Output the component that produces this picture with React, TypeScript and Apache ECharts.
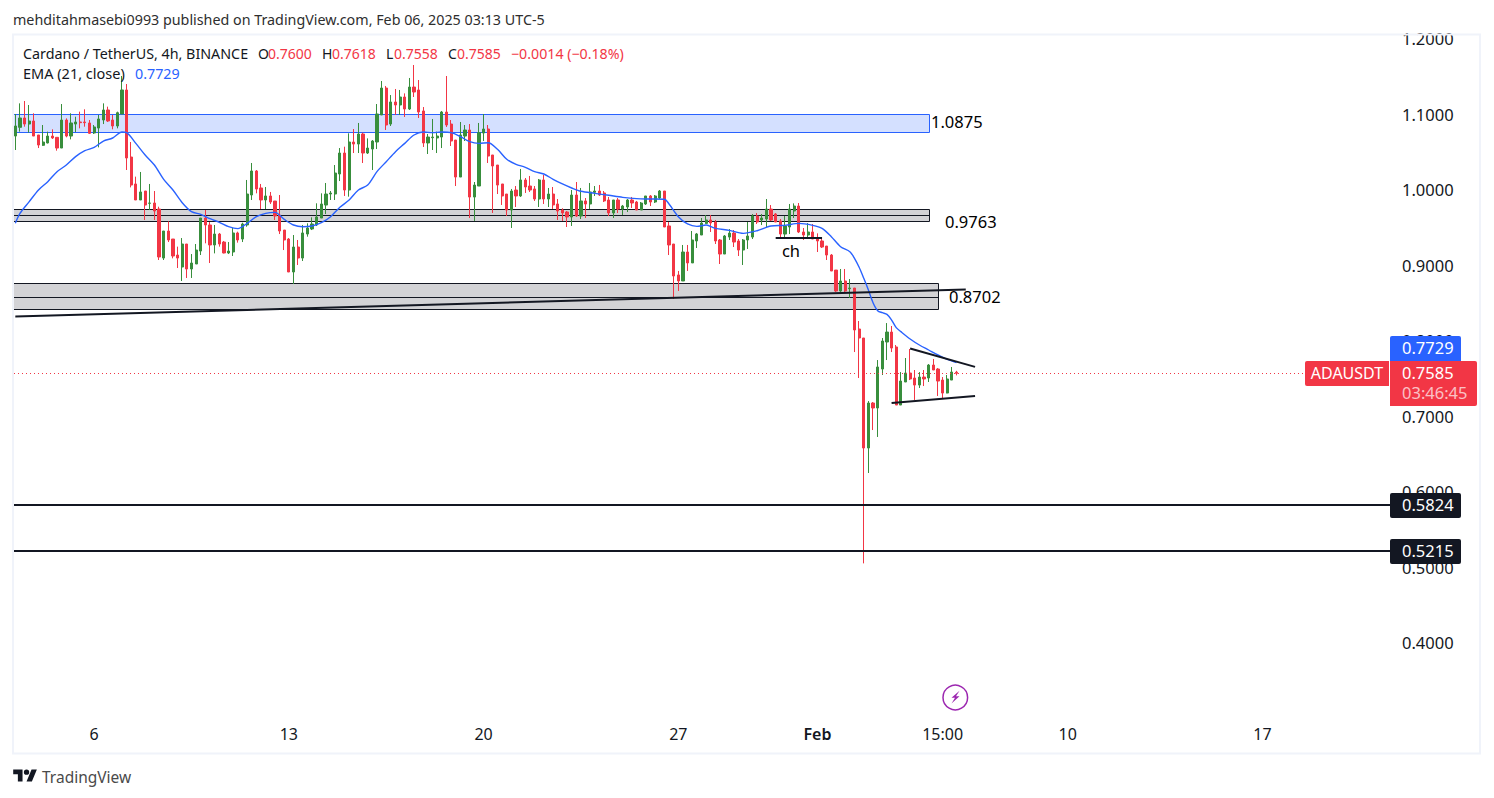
import React, { useEffect, useRef } from "react";
import * as echarts from "echarts";

const opens = [
1.0728,1.0843,1.0967,1.0887,1.0927,1.0742,1.0605,1.0636,1.0728,1.0711,
1.0569,1.0940,1.0728,1.0887,1.0914,1.0914,1.0901,1.0768,1.0834,1.0940,
1.1073,1.0940,1.0861,1.1020,1.1338,1.0450,1.0093,.9881,1.0000,.9837,
.9841,.9761,.9112,.9470,.9364,.9152,.8993,.9298,.8967,.9033,
.9205,.9642,.9550,.9285,.9430,.9324,.9179,.9192,.9444,.9364,
.9550,.9947,1.0265,1.0040,.9881,.9934,.9867,.9682,.9483,.9364,
.8927,.9258,.9112,.9430,.9497,.9550,.9642,.9814,.9960,.9960,
1.0225,1.0503,1.0013,1.0649,1.0622,1.0755,1.0503,1.0556,1.0649,1.1007,
1.1364,1.0887,1.1179,1.1139,1.1245,1.1086,1.1377,1.1338,1.1060,1.0636,
1.0706,1.0702,1.0715,1.1046,1.0887,1.0675,1.0185,1.0728,1.0808,.9920,
1.0066,1.0768,1.0821,1.0477,1.0344,1.0093,.9960,.9748,1.0013,.9934,
1.0146,1.0066,1.0027,.9894,1.0146,.9894,.9960,.9828,.9748,.9722,
.9656,.9947,.9669,.9868,.9828,.9982,1.0000,.9974,.9881,.9709,
.9881,.9762,.9788,.9881,.9854,.9748,.9828,.9934,.9854,.9907,
1.0000,.9537,.9298,.8888,.8808,.9192,.9047,.9338,.9417,.9571,
.9616,.9589,.9351,.9165,.9390,.9443,.9338,.9218,.9351,.9390,
.9669,.9616,.9629,.9761,.9695,.9602,.9430,.9523,.9735,.9801,
.9457,.9417,.9457,.9377,.9338,.9271,.9152,.8953,.8675,.8808,
.8706,.8715,.8172,.8053,.6596,.7192,.7126,.7642,.8000,.8132,
.7934,.7165,.7470,.7589,.7523,.7430,.7536,.7523,.7695,.7642,
.7496,.7324,.7496,.7600];

const closes = [
1.0861,1.0967,1.0887,1.0927,1.0728,1.0609,1.0649,1.0728,1.0702,1.0569,
1.0940,1.0728,1.0901,1.0914,1.0905,1.0905,1.0764,1.0848,1.0954,1.1073,
1.0927,1.0861,1.1037,1.1338,1.0437,1.0079,.9881,.9987,.9814,.9841,
.9735,.9126,.9470,.9351,.9139,.9112,.9298,.8967,.9046,.9218,
.9642,.9550,.9285,.9430,.9298,.9179,.9205,.9444,.9351,.9563,
.9960,1.0265,1.0026,.9881,.9934,.9854,.9669,.9470,.9351,.8927,
.9258,.9112,.9444,.9510,.9563,.9656,.9828,.9960,.9973,1.0238,
1.0503,1.0013,1.0649,1.0622,1.0755,1.0503,1.0569,1.0662,1.1020,1.1364,
1.0874,1.1179,1.1139,1.1245,1.1086,1.1377,1.1311,1.1046,1.0636,1.0715,
1.0715,1.0728,1.1046,1.0874,1.0662,1.0185,1.0742,1.0808,.9920,1.0079,
1.0773,1.0821,1.0463,1.0331,1.0079,.9934,.9748,1.0000,.9934,1.0146,
1.0053,1.0013,.9894,1.0146,.9894,.9960,.9815,.9735,.9709,.9656,
.9947,.9669,.9868,.9828,.9987,1.0000,.9947,.9868,.9709,.9881,
.9762,.9801,.9881,.9841,.9748,.9841,.9934,.9854,.9934,1.0000,
.9523,.9285,.8874,.8808,.9192,.9047,.9351,.9431,.9576,.9616,
.9576,.9338,.9165,.9404,.9443,.9324,.9218,.9351,.9404,.9669,
.9589,.9642,.9761,.9616,.9589,.9430,.9536,.9761,.9801,.9457,
.9417,.9457,.9364,.9338,.9258,.9152,.8940,.8675,.8808,.8675,
.8715,.8159,.8053,.6596,.7192,.7126,.7669,.8013,.8132,.7920,
.7165,.7483,.7589,.7510,.7430,.7536,.7510,.7695,.7629,.7483,
.7324,.7510,.7602,.7585];

const lows = [
1.0543,1.0786,1.0852,1.0773,1.0728,1.0569,1.0596,1.0631,1.0689,1.0534,
1.0569,1.0711,1.0684,1.0781,1.0830,1.0852,1.0755,1.0755,1.0578,1.0887,
1.0914,1.0817,1.0830,1.1020,1.0278,1.0048,.9881,.9881,.9616,.9748,
.9616,.9086,.9086,.9324,.9108,.8980,.8808,.8848,.8848,.9033,
.9152,.9307,.9046,.9174,.9263,.9174,.9165,.9139,.9316,.9324,
.9527,.9881,.9969,.9761,.9761,.9828,.9616,.9430,.9218,.8927,
.8768,.9020,.9073,.9395,.9483,.9536,.9642,.9695,.9881,.9881,
1.0132,.9934,.9925,1.0503,1.0503,1.0371,1.0490,1.0278,1.0556,1.1007,
1.0808,1.0861,1.1007,1.1007,1.0980,1.1073,1.1245,1.0967,1.0583,1.0490,
1.0543,1.0503,1.0569,1.0848,1.0596,1.0066,1.0185,1.0662,.9642,.9603,
1.0066,1.0662,1.0371,.9709,.9960,.9815,.9669,.9510,.9788,.9921,
.9974,.9987,.9868,.9788,.9828,.9788,.9762,.9616,.9603,.9523,
.9537,.9656,.9629,.9643,.9762,.9934,.9934,.9854,.9669,.9643,
.9709,.9682,.9722,.9775,.9748,.9748,.9815,.9801,.9841,.9894,
.9523,.9152,.8570,.8676,.8808,.8941,.9047,.9245,.9417,.9563,
.9457,.9298,.9033,.9165,.9351,.9258,.9139,.9020,.9232,.9364,
.9563,.9549,.9523,.9602,.9589,.9377,.9364,.9430,.9642,.9443,
.9351,.9390,.9364,.9192,.9245,.9086,.8940,.8662,.8662,.8649,
.8583,.7867,.7523,.5068,.6265,.6834,.6742,.7563,.7761,.7867,
.7165,.7165,.7470,.7496,.7232,.7391,.7417,.7470,.7629,.7285,
.7258,.7320,.7496,.7558];

const highs = [
1.1020,1.1161,1.1192,1.1139,1.1029,1.0742,1.0874,1.0786,1.0817,1.0711,
1.1152,1.0962,1.1029,1.0984,1.1051,1.1082,1.0940,1.0874,1.1007,1.1161,
1.1117,1.1007,1.1051,1.1523,1.1417,1.0649,1.0190,1.0252,1.0000,1.0093,
1.0000,.9792,.9470,.9598,.9364,.9263,.9377,.9298,.9165,.9298,
.9642,.9748,.9589,.9550,.9444,.9338,.9324,.9510,.9461,.9580,
1.0146,1.0371,1.0278,1.0093,1.0053,.9987,.9867,.9947,.9483,.9377,
.9417,.9351,.9550,.9572,.9651,.9837,.9969,1.0106,1.0000,1.0344,
1.0569,1.0587,1.0764,1.0821,1.0901,1.0773,1.0697,1.0675,1.1152,1.1457,
1.1391,1.1271,1.1351,1.1338,1.1293,1.1497,1.1669,1.1470,1.1112,1.0755,
1.0954,1.0786,1.1060,1.1523,1.0940,1.0675,1.0914,1.0874,1.0887,1.0119,
1.0901,1.1020,1.0874,1.0477,1.0344,1.0093,.9960,1.0027,1.0066,1.0292,
1.0172,1.0199,1.0066,1.0159,1.0212,1.0040,1.0053,.9894,.9771,.9735,
1.0013,1.0119,1.0040,.9907,1.0106,1.0066,1.0080,1.0000,.9921,.9881,
.9907,.9815,.9894,.9921,.9868,.9854,.9934,.9947,.9947,1.0013,
1.0000,.9590,.9298,.8941,.9285,.9285,.9470,.9444,.9642,.9682,
.9682,.9616,.9364,.9417,.9496,.9483,.9364,.9364,.9589,.9695,
.9708,.9695,.9894,.9814,.9708,.9629,.9669,.9828,.9836,.9841,
.9510,.9576,.9563,.9439,.9386,.9271,.9165,.8953,.8967,.8967,
.8834,.8715,.8278,.8053,.7218,.7205,.7761,.8053,.8251,.8212,
.7960,.7602,.7788,.7907,.7629,.7602,.7629,.7708,.7775,.7655,
.7536,.7563,.7669,.7618];

const emaIndexes = [0,1,3,5,7,9,11,13,15,17,19,21,23,24,26,28,30,32,34,36,38,40,42,44,46,48,50,52,54,56,58,60,62,64,66,68,70,72,74,76,78,80,82,84,86,88,90,92,94,96,98,100,102,104,106,108,110,112,114,116,118,120,122,125,128,131,134,137,140,141,143,145,147,149,151,154,157,160,163,166,169,172,174,176,178,180,181,182,183,184,185,186,187,188,189,190,191,193,195,197,199,201,203];
const emaValues = [.9572,.9704,.9859,1.0013,1.0124,1.0256,1.0344,1.0455,1.0534,1.0578,1.0662,1.0702,1.0781,1.0773,1.0631,1.0477,1.0344,1.0154,1.0013,.9845,.9726,.9691,.9633,.9585,.9527,.9501,.9572,.9660,.9704,.9717,.9625,.9550,.9527,.9536,.9580,.9660,.9784,.9881,1.0013,1.0079,1.0256,1.0388,1.0521,1.0631,1.0742,1.0781,1.0773,1.0781,1.0773,1.0720,1.0653,1.0631,1.0640,1.0552,1.0420,1.0353,1.0314,1.0256,1.0225,1.0155,1.0093,1.0040,.9996,.9969,.9943,.9916,.9899,.9894,.9890,.9828,.9660,.9563,.9532,.9549,.9505,.9479,.9439,.9474,.9536,.9545,.9571,.9545,.9505,.9395,.9262,.9196,.9108,.8989,.8843,.8688,.8521,.8415,.8388,.8366,.8291,.8190,.8137,.8040,.7960,.7894,.7828,.7770,.7729];

const priceTicks = { min: 0.3, max: 1.2, interval: 0.1 };
const tickIndexes = [17, 59, 101, 143, 173, 200, 227, 269];
const tickLabels = ["6", "13", "20", "27", "Feb", "15:00", "10", "17"];
const slotCount = 297;

const zoneEnds = [197, 197, 199];
const zoneTops = [1.102, 0.9758, 0.8777];
const zoneMids = [null, 0.9678, 0.86];
const zoneBottoms = [1.0781, 0.9599, 0.8433];

const levelLines = [0.5824, 0.5215];
const lastPrice = 0.7585;
const trendIndexes = [[0, 205], [193, 207], [189, 207], [164, 174]];
const trendPrices = [[0.8338, 0.8695], [0.7914, 0.7671], [0.7192, 0.7285], [0.9377, 0.9377]];

const UP = "#388E3C";
const DOWN = "#F23645";
const BLUE = "#2962FF";
const INK = "#131722";
const FONT = "'Noto Sans', sans-serif";

const logoPath =
  "M14 22H7V11H0V4h14v18zM28 22h-8l7.5-18h8L28 22zM20 4a4 4 0 1 0 0 8a4 4 0 1 0 0-8z";

function label(text: string, x: number, y: number, fill: string, size = 14, align = "left", extra = {}) {
  return {
    type: "text", x, y, z: 100,
    style: { text, fill, font: `${size}px ${FONT}`, textAlign: align, textVerticalAlign: "middle", ...extra },
  };
}
function tag(x: number, y: number, w: number, h: number, fill: string, r: any = 2) {
  return { type: "rect", z: 90, shape: { x, y, width: w, height: h, r }, style: { fill } };
}

export default function App() {
  const ref = useRef<HTMLDivElement>(null);
  useEffect(() => {
    document.body.style.margin = "0";
    document.body.style.background = "#fff";
    document.body.style.overflow = "hidden";
    echarts.graphic.registerShape("tvlogo", echarts.graphic.extendPath(logoPath, {}) as any);
    const chart = echarts.init(ref.current!, undefined, { renderer: "svg" });
    const categories = Array.from({ length: slotCount }, (_, i) => String(i));
    const candles = opens.map((o, i) => [o, closes[i], lows[i], highs[i]]);
    const zoneData = zoneEnds.map((e, i) => [e, zoneTops[i], zoneMids[i] ?? NaN, zoneBottoms[i]]);
    const fullRule = (p: number, color: string, width: number, type: any, snap: (v: number) => number) => ({
      type: "custom",
      z: 4,
      silent: true,
      clip: false,
      data: [[0, p]],
      encode: { x: 0, y: 1 },
      renderItem: (params: any, api: any) => {
        const y = snap(api.coord([0, api.value(1)])[1]);
        return {
          type: "line",
          shape: { x1: params.coordSys.x + 1, y1: y, x2: params.coordSys.x + params.coordSys.width, y2: y },
          style: { stroke: color, lineWidth: width, lineDash: type },
        };
      },
    });
    const thickSnap = (v: number) => Math.floor(v) - 1;
    const thinSnap = (v: number) => Math.round(v) + 0.5;
    chart.setOption({
      animation: false,
      backgroundColor: "#fff",
      grid: { left: 13, top: 40, width: 1377, height: 679.5, containLabel: false },
      tooltip: { show: false },
      xAxis: {
        type: "category",
        data: categories,
        boundaryGap: true,
        axisLine: { show: false },
        axisTick: { show: false },
        splitLine: { show: false },
        axisLabel: {
          interval: (i: number) => tickIndexes.includes(i),
          formatter: (_: string, i: number) => {
            const t = tickLabels[tickIndexes.indexOf(i)];
            return t === "Feb" ? `{b|${t}}` : t;
          },
          color: INK,
          fontFamily: FONT,
          fontSize: 16,
          margin: 6,
          rich: { b: { color: INK, fontFamily: FONT, fontSize: 16, fontWeight: 600 } },
        },
      },
      yAxis: {
        type: "value",
        position: "right",
        scale: false,
        min: priceTicks.min,
        max: priceTicks.max,
        interval: priceTicks.interval,
        axisLine: { show: false },
        axisTick: { show: false },
        splitLine: { show: false },
        axisLabel: {
          showMinLabel: false,
          formatter: (v: number) => `{p|${v.toFixed(4)}}`,
          color: INK,
          fontFamily: FONT,
          fontSize: 16.5,
          margin: 12,
          rich: { p: { color: INK, fontFamily: FONT, fontSize: 16.5, padding: [0, 0, 3, 0] } },
        },
      },
      series: [
        {
          type: "custom",
          z: 1,
          clip: false,
          silent: true,
          data: zoneData,
          encode: { x: 0, y: 1 },
          renderItem: (params: any, api: any) => {
            const x0 = params.coordSys.x + 0.5;
            const x1 = Math.round(api.coord([api.value(0), 1])[0]) + 0.5;
            const py = (v: number) => Math.round(api.coord([0, v])[1]) + 0.5;
            const top = py(api.value(1));
            const bottom = py(api.value(3));
            const midV = api.value(2);
            const isBlue = isNaN(midV);
            const children: any[] = [
              {
                type: "rect",
                shape: { x: x0, y: top, width: x1 - x0, height: bottom - top },
                style: {
                  fill: isBlue ? "rgba(41,98,255,0.2)" : "#D3D3D6",
                  stroke: isBlue ? BLUE : INK,
                  lineWidth: 1,
                },
              },
            ];
            if (!isBlue) {
              children.push({
                type: "line",
                shape: { x1: x0, y1: py(midV), x2: x1, y2: py(midV) },
                style: { stroke: INK, lineWidth: 1 },
              });
            }
            return { type: "group", children };
          },
        },
        {
          type: "candlestick",
          z: 2,
          barWidth: 2.7,
          silent: true,
          data: candles,
          itemStyle: { color: UP, color0: DOWN, borderColor: UP, borderColor0: DOWN, borderWidth: 1 },
        },
        {
          type: "line",
          z: 3,
          silent: true,
          symbol: "none",
          smooth: 0.3,
          clip: false,
          lineStyle: { color: BLUE, width: 1.4 },
          data: emaIndexes.map((x, i) => [x, emaValues[i]]),
        },
        fullRule(levelLines[0], INK, 2, "solid", thickSnap),
        fullRule(levelLines[1], INK, 2, "solid", thickSnap),
        fullRule(lastPrice, DOWN, 1, [1, 3], thinSnap),
        ...trendIndexes.map((xs, k) => ({
          type: "line",
          z: 4,
          silent: true,
          symbol: "none",
          clip: false,
          lineStyle: { color: INK, width: 2 },
          data: xs.map((x, i) => [x, trendPrices[k][i]]),
        })),
      ],
      graphic: [
        {
          type: "rect", z: 80, silent: true,
          shape: { x: 13, y: 34.5, width: 1467, height: 719 },
          style: { fill: "none", stroke: "#F0F3FA", lineWidth: 2 },
        },
        label("mehditahmasebi0993 published on TradingView.com, Feb 06, 2025 03:13 UTC-5", 13, 19, "#2E2E2E", 14.3),
        label("Cardano / TetherUS, 4h, BINANCE", 23, 53, INK, 14.3),
        label("O", 258, 53, INK, 14), label("0.7600", 268, 53, DOWN, 14),
        label("H", 322, 53, INK, 14), label("0.7618", 332, 53, DOWN, 14),
        label("L", 386, 53, INK, 14), label("0.7558", 394, 53, DOWN, 14),
        label("C", 448, 53, INK, 14), label("0.7585", 457, 53, DOWN, 14),
        label("\u22120.0014 (\u22120.18%)", 511, 53, DOWN, 14.2),
        label("EMA (21, close)", 23, 73, INK, 14.5),
        label("0.7729", 135, 73, BLUE, 14.3),
        label("1.0875", 931, 121, "#000", 16.5),
        label("0.9763", 945, 221, "#000", 16.5),
        label("0.8702", 949, 296, "#000", 16.5),
        label("ch", 791, 250, "#000", 16.5, "center"),
        tag(1390, 336, 71, 25, BLUE, [2, 2, 0, 0]),
        label("0.7729", 1402, 347.5, "#fff", 16.5),
        tag(1390, 361, 87, 45, DOWN, [0, 2, 2, 0]),
        label("0.7585", 1402, 372, "#fff", 16.5),
        label("03:46:45", 1402, 392, "rgba(255,255,255,0.7)", 16.5),
        tag(1305, 361, 84, 25, DOWN, [2, 0, 0, 2]),
        label("ADAUSDT", 1347, 372.5, "#fff", 16, "center"),
        tag(1390, 493, 71, 25, INK),
        label("0.5824", 1402, 504.5, "#fff", 16.5),
        tag(1390, 539, 71, 25, INK),
        label("0.5215", 1402, 550.5, "#fff", 16.5),
        {
          type: "circle", z: 90, silent: true,
          shape: { cx: 955.3, cy: 697.5, r: 12.3 },
          style: { fill: "#fff", stroke: "#9C27B0", lineWidth: 1.5 },
        },
        {
          type: "polygon", z: 91, silent: true,
          shape: { points: [[959.5, 690.7], [951.5, 697.8], [955, 697.8], [951.5, 703.5], [959.5, 696.3], [956, 696.3]] },
          style: { fill: "#9C27B0" },
        },
        { type: "tvlogo", z: 90, x: 13.2, y: 766.8, scaleX: 0.667, scaleY: 0.667, style: { fill: "#131722" } },
        label("TradingView", 42, 777, "#4A4A4A", 15.5),
      ],
    });
    return () => chart.dispose();
  }, []);
  return <div ref={ref} style={{ position: "absolute", left: 0, top: 0, width: 1494, height: 798 }} />;
}
